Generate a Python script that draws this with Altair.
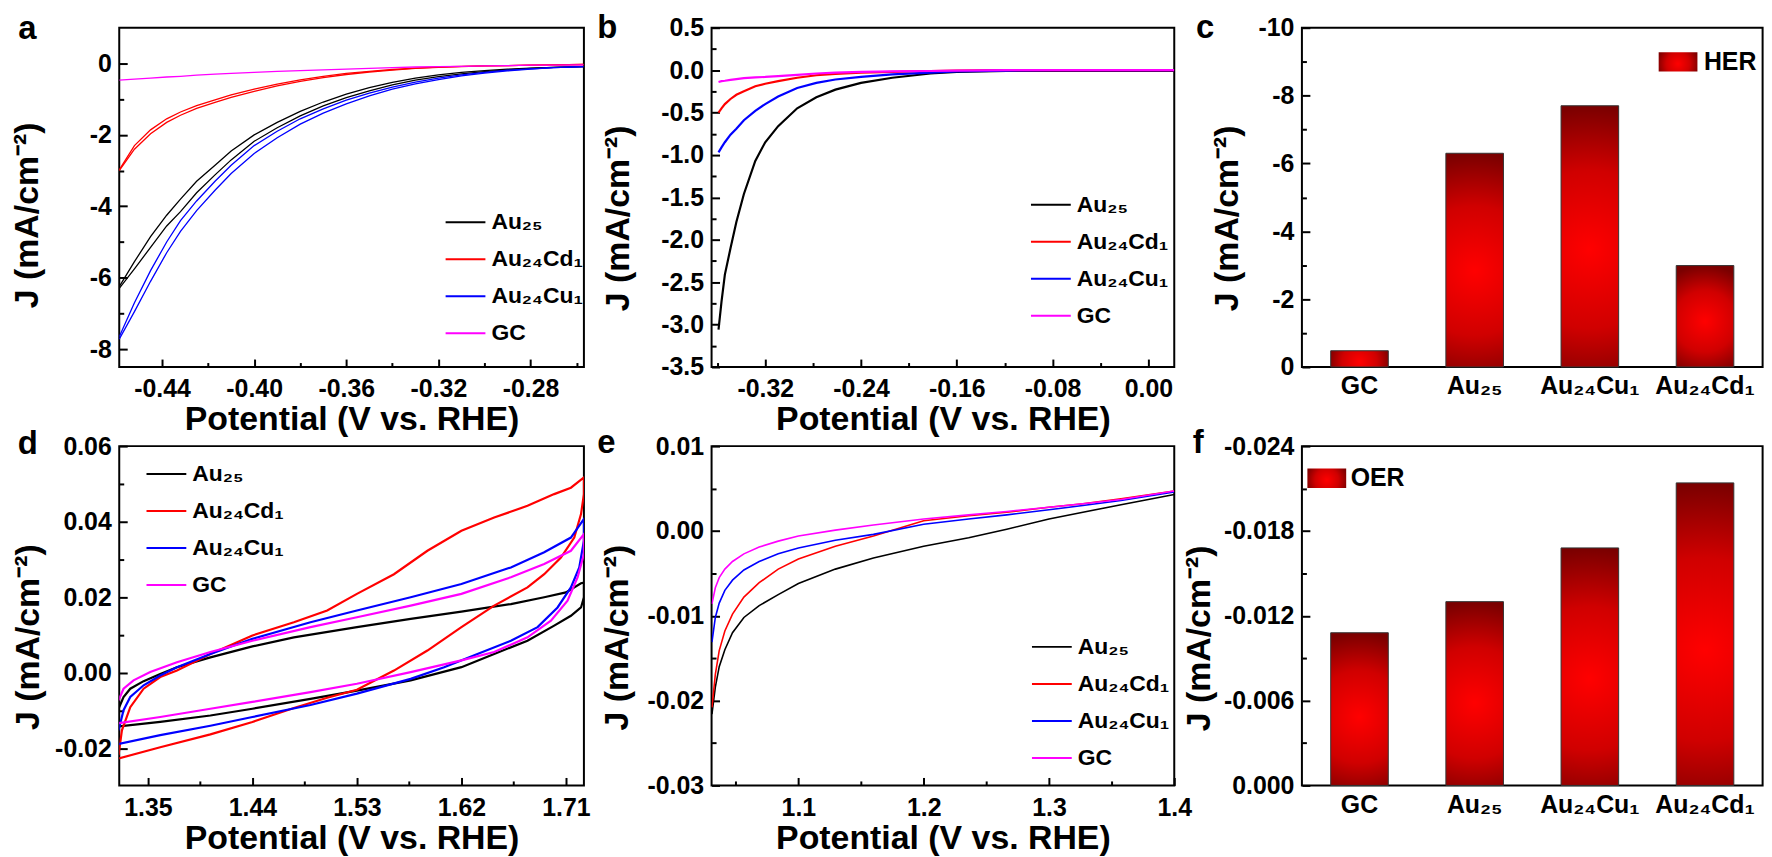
import altair as alt
import pandas as pd

FONT = "Liberation Sans"
SERIES = ["Au₂₅", "Au₂₄Cd₁", "Au₂₄Cu₁", "GC"]
COLORS = ["#000000", "#ff0000", "#0000ff", "#ff00ff"]
XTITLE = "Potential (V vs. RHE)"
YTITLE = "J (mA/cm⁻²)"
LBL = 25

# ---------------- panel a (HER, two sweeps) ----------------
A_V = [-0.4586, -0.452, -0.445, -0.438, -0.432, -0.425, -0.417, -0.41, -0.40, -0.39, -0.38, -0.37,
       -0.36, -0.35, -0.34, -0.33, -0.32, -0.31, -0.30, -0.29, -0.28, -0.27, -0.257]
A_AU25_FWD = [-6.25, -5.55, -4.85, -4.25, -3.80, -3.30, -2.85, -2.45, -2.00, -1.65, -1.34, -1.08,
              -0.86, -0.68, -0.53, -0.41, -0.32, -0.25, -0.20, -0.16, -0.13, -0.11, -0.09]
A_AU25_REV = [-6.30, -5.75, -5.15, -4.55, -4.15, -3.62, -3.12, -2.70, -2.18, -1.80, -1.47, -1.19,
              -0.96, -0.77, -0.60, -0.47, -0.37, -0.29, -0.23, -0.18, -0.14, -0.11, -0.09]
A_CD_FWD = [-2.98, -2.30, -1.86, -1.55, -1.36, -1.18, -1.02, -0.88, -0.72, -0.58, -0.46, -0.36,
            -0.28, -0.22, -0.17, -0.13, -0.10, -0.08, -0.07, -0.06, -0.05, -0.04, -0.03]
A_CD_REV = [-3.00, -2.40, -1.97, -1.65, -1.45, -1.26, -1.09, -0.95, -0.78, -0.63, -0.50, -0.40,
            -0.31, -0.24, -0.19, -0.14, -0.11, -0.09, -0.07, -0.06, -0.05, -0.04, -0.03]
A_CU_FWD = [-7.65, -6.70, -5.80, -5.00, -4.40, -3.85, -3.30, -2.85, -2.30, -1.90, -1.55, -1.27,
            -1.03, -0.83, -0.66, -0.52, -0.41, -0.32, -0.25, -0.19, -0.15, -0.12, -0.09]
A_CU_REV = [-7.72, -6.95, -6.10, -5.30, -4.70, -4.12, -3.55, -3.08, -2.52, -2.08, -1.70, -1.39,
            -1.13, -0.91, -0.72, -0.57, -0.45, -0.35, -0.27, -0.21, -0.16, -0.12, -0.09]
A_GC = [-0.47, -0.44, -0.41, -0.38, -0.36, -0.33, -0.30, -0.28, -0.25, -0.22, -0.20, -0.18,
        -0.16, -0.14, -0.12, -0.10, -0.09, -0.08, -0.07, -0.06, -0.05, -0.05, -0.04]

# ---------------- panel b (HER LSV) ----------------
B_V = [-0.359, -0.3565, -0.3537, -0.349, -0.3441, -0.3378, -0.3283, -0.32, -0.3092, -0.2933, -0.2773,
       -0.2614, -0.24, -0.2139, -0.182, -0.16, -0.1184, -0.08, -0.04, 0.0, 0.0216]
B_AU25 = [-3.06, -2.73, -2.41, -2.10, -1.79, -1.46, -1.07, -0.85, -0.66, -0.45, -0.32,
          -0.23, -0.15, -0.09, -0.04, -0.02, -0.01, -0.01, -0.01, -0.01, -0.01]
B_CD = [-0.50, -0.45, -0.40, -0.34, -0.29, -0.25, -0.19, -0.16, -0.13, -0.09, -0.06,
        -0.045, -0.03, -0.02, -0.01, -0.005, 0.0, 0.0, 0.0, 0.0, 0.0]
B_CU = [-0.97, -0.91, -0.85, -0.76, -0.69, -0.59, -0.48, -0.40, -0.31, -0.21, -0.15,
        -0.11, -0.08, -0.05, -0.03, -0.015, -0.005, 0.0, 0.0, 0.0, 0.0]
B_GC = [-0.14, -0.13, -0.125, -0.115, -0.105, -0.095, -0.085, -0.08, -0.07, -0.055, -0.04,
        -0.03, -0.02, -0.015, -0.01, -0.005, 0.0, 0.0, 0.0, 0.0, 0.0]

# ---------------- panel c (HER bars) ----------------
BAR_CATS = ["GC", "Au₂₅", "Au₂₄Cu₁", "Au₂₄Cd₁"]
C_HER = [-0.48, -6.30, -7.70, -2.99]

# ---------------- panel d (CV loops) ----------------
D_AU25_V = [1.3247, 1.329, 1.3348, 1.3463, 1.3606, 1.375, 1.4038, 1.44, 1.4757, 1.53, 1.5763, 1.62,
            1.6626, 1.6913, 1.71, 1.723, 1.7255,
            1.7255, 1.723, 1.7143, 1.6999, 1.6769, 1.6482, 1.62, 1.5763, 1.53, 1.49, 1.44, 1.4038,
            1.3606, 1.3247, 1.3247]
D_AU25_J = [-0.0095, -0.0064, -0.0042, -0.0022, -0.0003, 0.0015, 0.0041, 0.0070, 0.0094, 0.0121, 0.0143,
            0.0162, 0.0182, 0.0200, 0.0213, 0.0237, 0.0239,
            0.0200, 0.0173, 0.0151, 0.0125, 0.0085, 0.0050, 0.0015, -0.0020, -0.0047, -0.0069, -0.0095,
            -0.0113, -0.0130, -0.0142, -0.0095]
D_CD_V = [1.3247, 1.3276, 1.3348, 1.3463, 1.3606, 1.375, 1.4038, 1.44, 1.4757, 1.5044, 1.53, 1.5619,
          1.5907, 1.62, 1.6482, 1.6769, 1.6999, 1.7143, 1.7255,
          1.7255, 1.723, 1.7172, 1.7057, 1.6913, 1.6769, 1.6482, 1.62, 1.5907, 1.5619, 1.53, 1.5044,
          1.4757, 1.44, 1.4038, 1.3606, 1.3247]
D_CD_J = [-0.0218, -0.0152, -0.0091, -0.0042, -0.0011, 0.0006, 0.0050, 0.0099, 0.0134, 0.0165, 0.0209,
          0.0261, 0.0323, 0.0376, 0.0411, 0.0442, 0.0473, 0.0490, 0.0517,
          0.0473, 0.0420, 0.0358, 0.0305, 0.0261, 0.0226, 0.0178, 0.0121, 0.0059, 0.0006, -0.0045,
          -0.0066, -0.0093, -0.0130, -0.0163, -0.0197, -0.0227]
D_CU_V = [1.3247, 1.329, 1.3348, 1.3463, 1.3606, 1.375, 1.4038, 1.44, 1.49, 1.53, 1.5763, 1.62, 1.6626,
          1.6913, 1.7143, 1.7255,
          1.7255, 1.7215, 1.7143, 1.7028, 1.6856, 1.6626, 1.6338, 1.6051, 1.5763, 1.53, 1.49, 1.44,
          1.4038, 1.3606, 1.3247]
D_CU_J = [-0.0152, -0.0099, -0.0064, -0.0033, -0.0007, 0.0015, 0.0050, 0.0090, 0.0134, 0.0165, 0.0200,
          0.0235, 0.0279, 0.0319, 0.0358, 0.0407,
          0.0350, 0.0279, 0.0226, 0.0173, 0.0121, 0.0085, 0.0050, 0.0015, -0.0016, -0.0055, -0.0085,
          -0.0117, -0.0140, -0.0165, -0.0188]
D_GC_V = [1.3247, 1.329, 1.3376, 1.352, 1.375, 1.4038, 1.44, 1.49, 1.53, 1.5763, 1.62, 1.6626, 1.6913,
          1.7143, 1.7255,
          1.7255, 1.7201, 1.7114, 1.6971, 1.6769, 1.6482, 1.62, 1.5763, 1.53, 1.49, 1.44, 1.4038,
          1.3606, 1.3247]
D_GC_J = [-0.0073, -0.0042, -0.0020, 0.0002, 0.0028, 0.0055, 0.0085, 0.0121, 0.0147, 0.0178, 0.0209,
          0.0253, 0.0288, 0.0323, 0.0367,
          0.0314, 0.0253, 0.0191, 0.0138, 0.0094, 0.0055, 0.0033, 0.0002, -0.0029, -0.0051, -0.0077,
          -0.0095, -0.0117, -0.0133]

# ---------------- panel e (OER LSV) ----------------
E_V = [1.0310, 1.0337, 1.0368, 1.0413, 1.0474, 1.0565, 1.0687, 1.0839, 1.1000, 1.1295, 1.1599,
       1.2000, 1.2359, 1.2663, 1.3000, 1.3271, 1.3575, 1.4000]
E_AU25 = [-0.0216, -0.0184, -0.0160, -0.0140, -0.0120, -0.0102, -0.0088, -0.0075, -0.0062, -0.0045,
          -0.0032, -0.0018, -0.0008, 0.0002, 0.0014, 0.0022, 0.0031, 0.0043]
E_CD = [-0.0208, -0.0169, -0.0141, -0.0118, -0.0098, -0.0078, -0.0061, -0.0045, -0.0033, -0.0018,
        -0.0006, 0.0012, 0.0018, 0.0022, 0.0028, 0.0032, 0.0038, 0.0047]
E_CU = [-0.0131, -0.0102, -0.0085, -0.0070, -0.0058, -0.0046, -0.0036, -0.0027, -0.0020, -0.0011,
        -0.0004, 0.0008, 0.0014, 0.0019, 0.0025, 0.0030, 0.0036, 0.0046]
E_GC = [-0.0086, -0.0067, -0.0055, -0.0045, -0.0036, -0.0027, -0.0019, -0.0012, -0.0006, 0.0001,
        0.0007, 0.0014, 0.0019, 0.0023, 0.0028, 0.0032, 0.0037, 0.0047]

# ---------------- panel f (OER bars) ----------------
F_OER = [-0.0108, -0.0130, -0.0168, -0.0214]


def build_df(parts):
    rows = []
    for series, branch, vs, js in parts:
        for i, (v, j) in enumerate(zip(vs, js)):
            rows.append({"series": series, "branch": series + branch, "idx": i, "V": v, "J": j})
    return pd.DataFrame(rows)


def lab_expr(fmt):
    return "(datum.value < 0 ? '-' : '') + format(abs(datum.value), '%s')" % fmt


def tick_axis(orient, vals, size):
    return alt.Axis(orient=orient, values=vals, labels=False, domain=False, grid=False, ticks=True,
                    tickSize=size, tickWidth=2, tickColor="black", offset=-size, title=None)


def y_label_axis(vals, fmt, tx, ty):
    return alt.Axis(values=vals, labelExpr=lab_expr(fmt), ticks=False, tickSize=0, domain=False,
                    grid=False, labelPadding=8, labelFontSize=LBL, labelFlush=False, labelOverlap=False,
                    labelBound=False, title=YTITLE, titleFontSize=34, titleX=tx, titleY=ty,
                    titleAngle=270, titleAlign="center", titleBaseline="middle")


def letter_layer(letter, lx, ly):
    return alt.Chart(pd.DataFrame({"t": [letter]})).mark_text(
        align="left", baseline="alphabetic", fontSize=33, fontWeight="bold", font=FONT, color="black"
    ).encode(text="t:N", x=alt.value(lx), y=alt.value(ly))


def line_panel(df, xdom, ydom, xmaj, xmin, ymaj, ymin, xfmt, yfmt, W, H, letter, lx, ly, tx, ty,
               legx, legy, sw):
    xs = alt.Scale(domain=xdom, nice=False, zero=False)
    ys = alt.Scale(domain=ydom, nice=False, zero=False)
    x_lab = alt.Axis(values=xmaj, labelExpr=lab_expr(xfmt), ticks=False, tickSize=0, domain=False,
                     grid=False, labelPadding=10, labelFontSize=LBL, labelFlush=False,
                     labelOverlap=False, labelBound=False, title=XTITLE, titleFontSize=34,
                     titleY=63, titleBaseline="alphabetic")
    lines = alt.Chart(df).mark_line(strokeWidth=sw, clip=True).encode(
        x=alt.X("V:Q", scale=xs, axis=x_lab),
        y=alt.Y("J:Q", scale=ys, axis=y_label_axis(ymaj, yfmt, tx, ty)),
        color=alt.Color("series:N", scale=alt.Scale(domain=SERIES, range=COLORS),
                        legend=alt.Legend(orient="none", legendX=legx, legendY=legy, title=None,
                                          symbolType="stroke", symbolSize=1600, symbolStrokeWidth=2,
                                          labelFontSize=23, labelOffset=5, rowPadding=13.2,
                                          clipHeight=22.5, padding=0)),
        detail="branch:N",
        order="idx:Q",
    )
    major = alt.Chart(df).mark_point(opacity=0, clip=True).encode(
        x=alt.X("V:Q", scale=xs, axis=tick_axis("bottom", xmaj, 8)),
        y=alt.Y("J:Q", scale=ys, axis=tick_axis("left", ymaj, 8)),
    )
    minor = alt.Chart(df).mark_point(opacity=0, clip=True).encode(
        x=alt.X("V:Q", scale=xs, axis=tick_axis("bottom", xmin, 4.5)),
        y=alt.Y("J:Q", scale=ys, axis=tick_axis("left", ymin, 4.5)),
    )
    return alt.layer(lines, major, minor, letter_layer(letter, lx, ly)).resolve_axis(
        x="independent", y="independent").properties(width=W, height=H)


GRAD = {"gradient": "radial",
        "stops": [{"offset": 0, "color": "#ff0000"}, {"offset": 0.55, "color": "#d00000"},
                  {"offset": 1, "color": "#7a0000"}],
        "x1": 0.5, "y1": 0.55, "x2": 0.5, "y2": 0.55, "r1": 0, "r2": 0.55}


def bar_panel(vals, dom, maj, minr, fmt, W, H, leg_label, letter, lx, ly, tx, ty, legx, legy, loff):
    df = pd.DataFrame({"cat": BAR_CATS, "J": vals, "lab": [leg_label] * len(BAR_CATS)})
    xs = alt.Scale(domain=BAR_CATS, paddingInner=0.5, paddingOuter=0.25)
    ys = alt.Scale(domain=dom, nice=False, zero=False, reverse=True)
    bars = alt.Chart(df).mark_bar(color=GRAD, stroke="#333333", strokeWidth=1).encode(
        x=alt.X("cat:N", scale=xs, sort=BAR_CATS,
                axis=alt.Axis(orient="bottom", labelAngle=0, ticks=False, tickSize=0, domain=False,
                              grid=False, labelPadding=7, labelFontSize=LBL, labelFlush=False,
                              labelOverlap=False, labelBound=False, title=None)),
        y=alt.Y("J:Q", scale=ys, axis=y_label_axis(maj, fmt, tx, ty)),
        y2=alt.datum(0),
        opacity=alt.Opacity("lab:N", scale=alt.Scale(type="ordinal", domain=[leg_label], range=[1]),
                            legend=alt.Legend(orient="none", legendX=legx, legendY=legy, title=None,
                                              symbolType="M-1,-0.5L1,-0.5L1,0.5L-1,0.5Z",
                                              symbolSize=1521, symbolStrokeColor="#333333",
                                              symbolStrokeWidth=1, labelFontSize=LBL,
                                              labelOffset=loff, clipHeight=24, padding=0)),
    )
    major = alt.Chart(df).mark_point(opacity=0).encode(
        x=alt.X("cat:N", scale=xs, sort=BAR_CATS, axis=None),
        y=alt.Y("J:Q", scale=ys, axis=tick_axis("left", maj, 8)),
    )
    minor = alt.Chart(df).mark_point(opacity=0).encode(
        x=alt.X("cat:N", scale=xs, sort=BAR_CATS, axis=None),
        y=alt.Y("J:Q", scale=ys, axis=tick_axis("left", minr, 4.5)),
    )
    return alt.layer(bars, major, minor, letter_layer(letter, lx, ly)).resolve_axis(
        x="independent", y="independent").properties(width=W, height=H)


df_a = build_df([
    (SERIES[0], "f", A_V, A_AU25_FWD), (SERIES[0], "r", A_V, A_AU25_REV),
    (SERIES[1], "f", A_V, A_CD_FWD), (SERIES[1], "r", A_V, A_CD_REV),
    (SERIES[2], "f", A_V, A_CU_FWD), (SERIES[2], "r", A_V, A_CU_REV),
    (SERIES[3], "f", A_V, A_GC),
])
df_b = build_df([(SERIES[0], "", B_V, B_AU25), (SERIES[1], "", B_V, B_CD),
                 (SERIES[2], "", B_V, B_CU), (SERIES[3], "", B_V, B_GC)])
df_d = build_df([(SERIES[0], "", D_AU25_V, D_AU25_J), (SERIES[1], "", D_CD_V, D_CD_J),
                 (SERIES[2], "", D_CU_V, D_CU_J), (SERIES[3], "", D_GC_V, D_GC_J)])
df_e = build_df([(SERIES[0], "", E_V, E_AU25), (SERIES[1], "", E_V, E_CD),
                 (SERIES[2], "", E_V, E_CU), (SERIES[3], "", E_V, E_GC)])

W1, W2, W3, H = 467, 465, 463, 341

pa = line_panel(df_a, [-0.4586, -0.2568], [-8.5, 1.0],
                [-0.44, -0.40, -0.36, -0.32, -0.28], [-0.42, -0.38, -0.34, -0.30, -0.26],
                [0, -2, -4, -6, -8], [-1, -3, -5, -7], ".2f", "d", W1, H,
                "a", -101.6, 11, -91.8, 188, 327, 184.3, 1.3)
pb = line_panel(df_b, [-0.3648, 0.0216], [-3.5, 0.5],
                [-0.32, -0.24, -0.16, -0.08, 0.0], [-0.36, -0.28, -0.20, -0.12, -0.04],
                [0.5, 0.0, -0.5, -1.0, -1.5, -2.0, -2.5, -3.0, -3.5],
                [0.25, -0.25, -0.75, -1.25, -1.75, -2.25, -2.75, -3.25], ".2f", ".1f", W2, H,
                "b", -114.8, 10.7, -93.8, 191, 320, 166.7, 2.2)
pc = bar_panel(C_HER, [-10, 0], [-10, -8, -6, -4, -2, 0], [-9, -7, -5, -3, -1], "d", W3, H, "HER",
               "c", -106.5, 10.7, -74.5, 191, 358, 22.3, 6)
pd_ = line_panel(df_d, [1.3253, 1.7255], [-0.0298, 0.06],
                 [1.35, 1.44, 1.53, 1.62, 1.71], [1.395, 1.485, 1.575, 1.665],
                 [0.06, 0.04, 0.02, 0.0, -0.02], [0.05, 0.03, 0.01, -0.01], ".2f", ".2f", W1, H,
                 "d", -102, 8.2, -90.9, 191.5, 26.4, 16.8, 2.2)
pe = line_panel(df_e, [1.0307, 1.4], [-0.03, 0.01],
                [1.1, 1.2, 1.3, 1.4], [1.05, 1.15, 1.25, 1.35],
                [0.01, 0.0, -0.01, -0.02, -0.03], [0.005, -0.005, -0.015, -0.025], ".1f", ".2f", W2, H,
                "e", -114.8, 7.2, -94.8, 192, 321, 190.5, 1.6)
pf = bar_panel(F_OER, [-0.024, 0], [-0.024, -0.018, -0.012, -0.006, 0.0],
               [-0.021, -0.015, -0.009, -0.003], ".3f", W3, H, "OER",
               "f", -109.8, 6.7, -102.9, 192.7, 5, 20.3, 4)

chart = alt.concat(pa, pb, pc, pd_, pe, pf, columns=3, bounds="flush",
                   spacing={"row": 79.5, "column": 128.3}).resolve_scale(
    color="independent", opacity="independent").resolve_legend(
    color="independent", opacity="independent").properties(
    padding={"left": 1.8, "top": 0.7, "right": 0, "bottom": 0}
).configure_view(stroke="black", strokeWidth=2).configure_axis(
    labelFont=FONT, titleFont=FONT, labelFontWeight="bold", titleFontWeight="bold",
    labelColor="black", titleColor="black"
).configure_legend(labelFont=FONT, labelFontWeight="bold", labelColor="black", labelLimit=0)

chart.save("out.html", embed_options={"renderer": "svg", "actions": False})
